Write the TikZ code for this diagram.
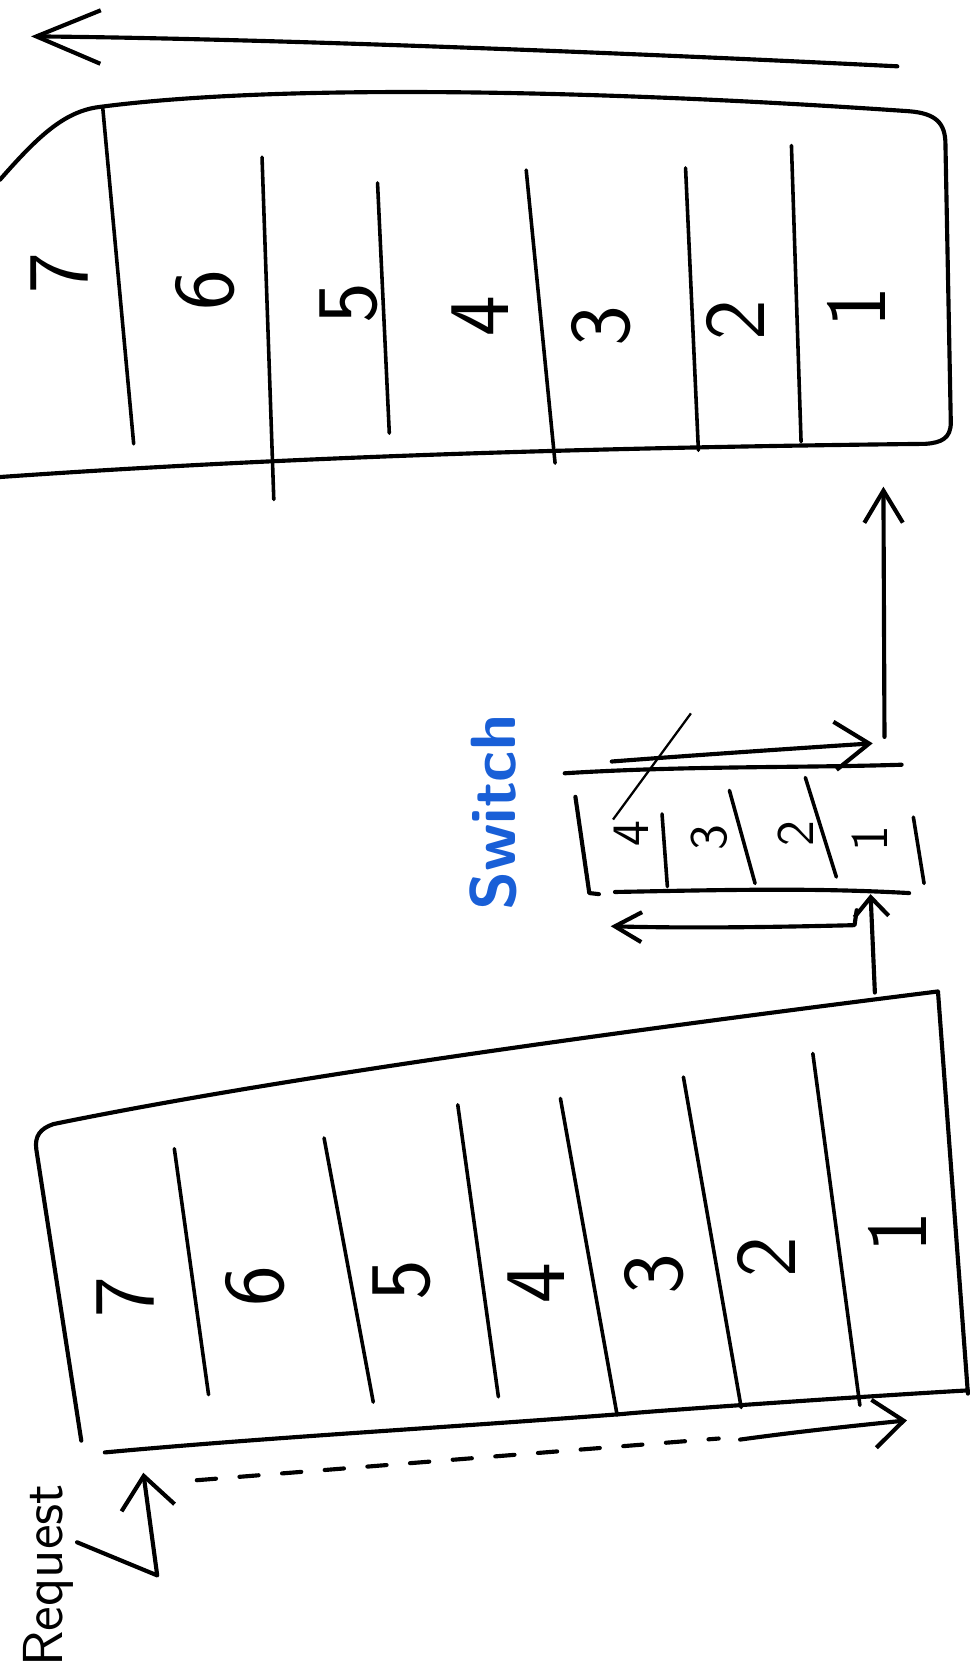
\documentclass[tikz,border=0pt]{standalone}
\usetikzlibrary{arrows.meta}
\definecolor{markerblue}{RGB}{25,95,215}
\begin{document}
\begin{tikzpicture}[x=0.1mm,y=-0.1mm,
  pen/.style={line width=1.1pt, line cap=round, line join=round},
  divider/.style={line width=0.95pt, line cap=round},
  bigdigit/.style={rotate=90, font=\sffamily\fontsize{23}{23}\selectfont, inner sep=0pt},
  smalldigit/.style={rotate=90, font=\sffamily\fontsize{14}{14}\selectfont, inner sep=0pt},
  handlabel/.style={rotate=90, font=\sffamily\fontsize{15}{15}\selectfont, inner sep=0pt},
  bluelabel/.style={rotate=90, text=markerblue, font=\sffamily\bfseries\fontsize{17}{17}\selectfont, inner sep=0pt},
]
\useasboundingbox (0,0) rectangle (909,1568);

% ---------- top arrow (back to the left) ----------
\coordinate (ta0) at (839,62);
\coordinate (ta1) at (29,34);
\draw[pen, -{Straight Barb[length=6mm,width=5mm]}] (ta0) .. controls (600,50) and (250,36) .. (ta1);

% ---------- top box ----------
\draw[pen] (0,168) .. controls (35,128) and (60,104) .. (93,100)
  .. controls (260,78) and (560,84) .. (850,104)
  .. controls (875,106) and (884,115) .. (884,135)
  -- (889,395) .. controls (889,410) and (880,414) .. (865,415)
  .. controls (600,418) and (300,425) .. (0,446);
\draw[divider] (96,100) -- (125,415);
\draw[divider] (245,147) -- (256,467);
\draw[divider] (353,171) -- (364,405);
\draw[divider] (492,159) -- (519,433);
\draw[divider] (641,157) -- (653,421);
\draw[divider] (740,136) -- (749,413);
\node[bigdigit] (t7) at (56,255) {7};
\node[bigdigit] (t6) at (192,271) {6};
\node[bigdigit] (t5) at (326,283) {5};
\node[bigdigit] (t4) at (449,296) {4};
\node[bigdigit] (t3) at (562,305) {3};
\node[bigdigit] (t2) at (688,299) {2};
\node[bigdigit] (t1) at (801,287) {1};

% ---------- switch buffer ----------
\draw[pen] (528,723) .. controls (640,716) and (750,718) .. (843,715);
\draw[pen] (538,745) -- (551,835) -- (560,836);
\draw[pen] (575,834) .. controls (680,832) and (760,830) .. (850,835);
\draw[divider] (854,764) -- (864,826);
\draw[divider] (619,761) -- (624,829);
\draw[divider] (682,739) -- (706,826);
\draw[divider] (753,727) -- (782,820);
\node[smalldigit] (s4) at (590,779) {4};
\node[smalldigit] (s3) at (663,783) {3};
\node[smalldigit] (s2) at (744,779) {2};
\node[smalldigit] (s1) at (813,784) {1};
\draw[line width=0.6pt] (646,667) -- (s4.north east);
\node[bluelabel] (sw) at (461,760) {Switch};

% arrows around switch
\coordinate (ra0) at (572,712);
\coordinate (ra1) at (816,695);
\draw[pen, -{Straight Barb[length=3.2mm,width=4.5mm]}] (ra0) .. controls (650,706) and (740,700) .. (ra1);
\coordinate (ua0) at (827,689);
\coordinate (ua1) at (826,455);
\draw[pen, -{Straight Barb[length=3mm,width=3.6mm]}] (ua0) -- (ua1);
\coordinate (la0) at (801,851);
\coordinate (la1) at (571,866);
\draw[pen, -{Straight Barb[length=2.5mm,width=2.8mm]}] (la0) -- (799,865) .. controls (720,867) and (640,868) .. (la1);
\coordinate (va0) at (818,928);
\coordinate (va1) at (814,836);
\draw[pen, -{Straight Barb[length=1.8mm,width=3.2mm]}] (va0) -- (va1);

% ---------- bottom box ----------
\draw[pen] (76,1347) -- (34,1075) .. controls (32,1062) and (38,1055) .. (50,1051)
  .. controls (250,1010) and (550,968) .. (877,927) -- (905,1303);
\draw[pen] (905,1300) .. controls (800,1306) and (600,1320) .. (583,1322)
  .. controls (400,1336) and (250,1344) .. (98,1358);
\draw[divider] (163,1074) -- (195,1304);
\draw[divider] (303,1064) -- (349,1311);
\draw[divider] (428,1033) -- (466,1306);
\draw[divider] (524,1027) -- (577,1323);
\draw[divider] (639,1007) -- (693,1316);
\draw[divider] (760,985) -- (804,1314);
\node[bigdigit] (b7) at (117,1213) {7};
\node[bigdigit] (b6) at (239,1203) {6};
\node[bigdigit] (b5) at (376,1197) {5};
\node[bigdigit] (b4) at (501,1200) {4};
\node[bigdigit] (b3) at (612,1191) {3};
\node[bigdigit] (b2) at (717,1175) {2};
\node[bigdigit] (b1) at (839,1152) {1};

% ---------- request arrows ----------
\node[handlabel] (req) at (45,1473) {Request};
\coordinate (rq0) at (72,1442);
\coordinate (rq1) at (147,1473);
\coordinate (rq2) at (134,1377);
\draw[pen, -{Straight Barb[length=3mm,width=5mm]}] (rq0) -- (rq1) -- (rq2);
\coordinate (da) at (184,1384);
\coordinate (db) at (672,1345);
\coordinate (dc) at (692,1346);
\coordinate (dd) at (848,1328);
\draw[pen, dash pattern=on 1.8mm off 2.2mm] (da) -- (db);
\draw[pen, -{Straight Barb[length=2.8mm,width=4.5mm]}] (dc) .. controls (750,1338) and (800,1333) .. (dd);
\end{tikzpicture}
\end{document}
